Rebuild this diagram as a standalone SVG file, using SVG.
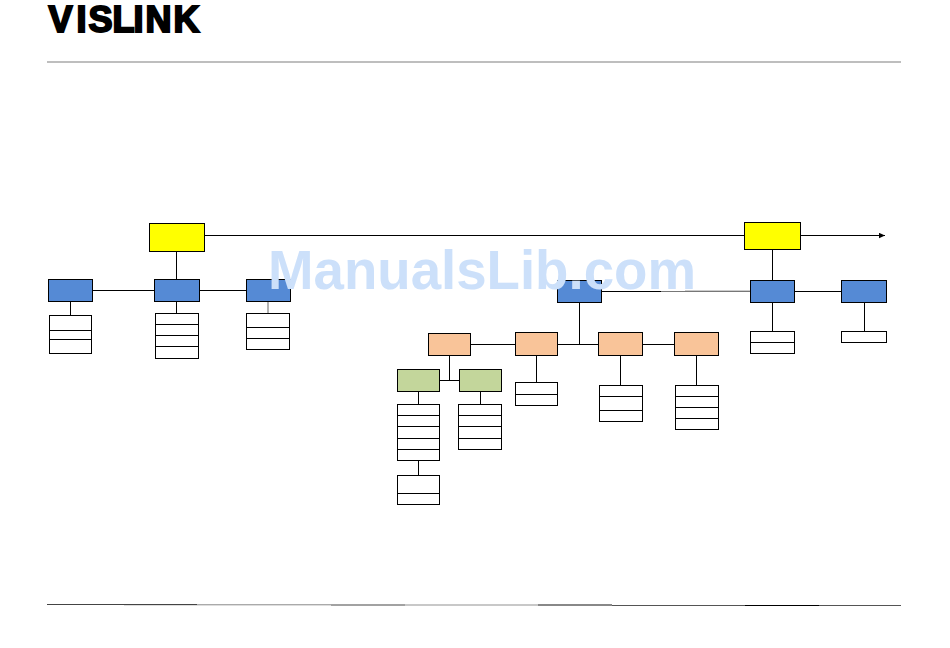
<svg xmlns="http://www.w3.org/2000/svg" width="950" height="648" viewBox="0 0 950 648">
<style>
.box{stroke:#000;stroke-width:1}
.y{fill:#ffff00}.b{fill:#558ad5}.o{fill:#f9c499}.g{fill:#c3d69b}.w{fill:#fff}
.c line,.div{stroke:#000;stroke-width:1;fill:none}
.r line{stroke:#000;stroke-width:1}
#logo{font-family:"Liberation Sans",Arial,sans-serif;font-weight:700;font-size:36px;fill:#000;stroke:#000;stroke-width:2px}
#watermark{font-family:"Liberation Sans",Arial,sans-serif;font-weight:700;font-size:55px;fill:#cce0fa}
</style>
<rect width="950" height="648" fill="#fff"/>
<text id="logo" x="48.5 76.5 88.6 112.4 133.5 145.5 173.4" y="32.3">VISLINK</text>
<line x1="47" y1="62" x2="901" y2="62" stroke="#a8a8a8" stroke-width="1.5"/>
<g id="footer" fill="none">
<line x1="47" y1="604.5" x2="197" y2="604.5" stroke="#444"/>
<line x1="124" y1="605.5" x2="197" y2="605.5" stroke="#ddd"/>
<line x1="197" y1="604.5" x2="331" y2="604.5" stroke="#aaa"/>
<line x1="197" y1="605.5" x2="331" y2="605.5" stroke="#ddd"/>
<line x1="331" y1="605" x2="405" y2="605" stroke="#a2a2a2" stroke-width="2"/>
<line x1="405" y1="605" x2="538" y2="605" stroke="#c8c8c8" stroke-width="2"/>
<line x1="538" y1="605" x2="612" y2="605" stroke="#888" stroke-width="2"/>
<line x1="612" y1="605.5" x2="745" y2="605.5" stroke="#555"/>
<line x1="745" y1="605.5" x2="819" y2="605.5" stroke="#000"/>
<line x1="819" y1="605.5" x2="901" y2="605.5" stroke="#555"/>
</g>
<defs>
<marker id="arrow" markerUnits="userSpaceOnUse" markerWidth="6" markerHeight="6" refX="6" refY="3" orient="auto"><path d="M0,0.3L6,3L0,5.7z" fill="#000"/></marker>
</defs>
<g id="connectors" class="c">
<line x1="204.5" y1="235.5" x2="744.5" y2="235.5"/>
<line x1="800.5" y1="235.5" x2="885" y2="235.5" marker-end="url(#arrow)"/>
<line x1="176.5" y1="251.5" x2="176.5" y2="279.5"/>
<line x1="92.5" y1="290.5" x2="154.5" y2="290.5"/>
<line x1="199.5" y1="290.5" x2="246.5" y2="290.5"/>
<line x1="70.5" y1="301.5" x2="70.5" y2="315.5"/>
<line x1="176.5" y1="301.5" x2="176.5" y2="313.5"/>
<line x1="268" y1="301.5" x2="268" y2="313.5" style="stroke:#999;stroke-width:1.5"/>
<line x1="601.5" y1="291.5" x2="661" y2="291.5"/>
<line x1="661" y1="291.5" x2="750.5" y2="291.5" style="stroke:#777"/>
<line x1="685" y1="290.5" x2="750.5" y2="290.5" style="stroke:#ccc"/>
<line x1="579.5" y1="302.5" x2="579.5" y2="344.5"/>
<line x1="470.5" y1="344.5" x2="515.5" y2="344.5"/>
<line x1="557.5" y1="344.5" x2="598.5" y2="344.5"/>
<line x1="642.5" y1="344.5" x2="674.5" y2="344.5"/>
<line x1="449.5" y1="355.5" x2="449.5" y2="380.5"/>
<line x1="439.5" y1="380.5" x2="459.5" y2="380.5"/>
<line x1="418.5" y1="391.5" x2="418.5" y2="404.5"/>
<line x1="480.5" y1="391.5" x2="480.5" y2="404.5"/>
<line x1="418.5" y1="460.5" x2="418.5" y2="475.5"/>
<line x1="536.5" y1="355.5" x2="536.5" y2="382.5"/>
<line x1="620.5" y1="355.5" x2="620.5" y2="385.5"/>
<line x1="696.5" y1="355.5" x2="696.5" y2="385.5"/>
<line x1="772.5" y1="249.5" x2="772.5" y2="280.5"/>
<line x1="794.5" y1="291.5" x2="841.5" y2="291.5"/>
<line x1="772.5" y1="302.5" x2="772.5" y2="331.5"/>
<line x1="864.5" y1="302.5" x2="864.5" y2="331.5"/>
</g>
<g id="node-yellow-1"><rect class="box y" x="149.5" y="223.5" width="55" height="28"/></g>
<g id="node-yellow-2"><rect class="box y" x="744.5" y="222.5" width="56" height="27"/></g>
<g id="node-blue-1"><rect class="box b" x="48.5" y="279.5" width="44" height="22"/></g>
<g id="node-blue-2"><rect class="box b" x="154.5" y="279.5" width="45" height="22"/></g>
<g id="node-blue-3"><rect class="box b" x="246.5" y="279.5" width="44" height="22"/></g>
<g id="node-blue-4"><rect class="box b" x="557.5" y="280.5" width="44" height="22"/></g>
<g id="node-blue-5"><rect class="box b" x="750.5" y="280.5" width="44" height="22"/></g>
<g id="node-blue-6"><rect class="box b" x="841.5" y="280.5" width="45" height="22"/></g>
<g id="node-orange-1"><rect class="box o" x="428.5" y="333.5" width="42" height="22"/></g>
<g id="node-orange-2"><rect class="box o" x="515.5" y="332.5" width="42" height="23"/></g>
<g id="node-orange-3"><rect class="box o" x="598.5" y="332.5" width="44" height="23"/></g>
<g id="node-orange-4"><rect class="box o" x="674.5" y="332.5" width="44" height="23"/></g>
<g id="node-green-1"><rect class="box g" x="397.5" y="369.5" width="42" height="22"/></g>
<g id="node-green-2"><rect class="box g" x="459.5" y="369.5" width="42" height="22"/></g>
<g id="node-list-1" class="r"><rect class="box w" x="49.5" y="315.5" width="42" height="38"/><line x1="49.5" y1="330.5" x2="91.5" y2="330.5"/><line x1="49.5" y1="339.5" x2="91.5" y2="339.5"/></g>
<g id="node-list-2" class="r"><rect class="box w" x="155.5" y="313.5" width="43" height="45"/><line x1="155.5" y1="324.5" x2="198.5" y2="324.5"/><line x1="155.5" y1="335.5" x2="198.5" y2="335.5"/><line x1="155.5" y1="346.5" x2="198.5" y2="346.5"/></g>
<g id="node-list-3" class="r"><rect class="box w" x="246.5" y="313.5" width="43" height="36"/><line x1="246.5" y1="327.5" x2="289.5" y2="327.5"/><line x1="246.5" y1="338.5" x2="289.5" y2="338.5"/></g>
<g id="node-list-4" class="r"><rect class="box w" x="397.5" y="404.5" width="42" height="56"/><line x1="397.5" y1="415.5" x2="439.5" y2="415.5"/><line x1="397.5" y1="426.5" x2="439.5" y2="426.5"/><line x1="397.5" y1="438.5" x2="439.5" y2="438.5"/><line x1="397.5" y1="449.5" x2="439.5" y2="449.5"/></g>
<g id="node-list-5" class="r"><rect class="box w" x="458.5" y="404.5" width="43" height="45"/><line x1="458.5" y1="415.5" x2="501.5" y2="415.5"/><line x1="458.5" y1="426.5" x2="501.5" y2="426.5"/><line x1="458.5" y1="438.5" x2="501.5" y2="438.5"/></g>
<g id="node-list-6" class="r"><rect class="box w" x="397.5" y="475.5" width="42" height="29"/><line x1="397.5" y1="493.5" x2="439.5" y2="493.5"/></g>
<g id="node-list-7" class="r"><rect class="box w" x="515.5" y="382.5" width="42" height="23"/><line x1="515.5" y1="394.5" x2="557.5" y2="394.5"/></g>
<g id="node-list-8" class="r"><rect class="box w" x="599.5" y="385.5" width="43" height="36"/><line x1="599.5" y1="396.5" x2="642.5" y2="396.5"/><line x1="599.5" y1="410.5" x2="642.5" y2="410.5"/></g>
<g id="node-list-9" class="r"><rect class="box w" x="675.5" y="385.5" width="43" height="44"/><line x1="675.5" y1="396.5" x2="718.5" y2="396.5"/><line x1="675.5" y1="407.5" x2="718.5" y2="407.5"/><line x1="675.5" y1="418.5" x2="718.5" y2="418.5"/></g>
<g id="node-list-10" class="r"><rect class="box w" x="750.5" y="331.5" width="44" height="22"/><line x1="750.5" y1="342.5" x2="794.5" y2="342.5"/></g>
<g id="node-list-11"><rect class="box w" x="841.5" y="331.5" width="45" height="11"/></g>
<text id="watermark" x="268" y="289" textLength="428" lengthAdjust="spacingAndGlyphs">ManualsLib.com</text>
</svg>
